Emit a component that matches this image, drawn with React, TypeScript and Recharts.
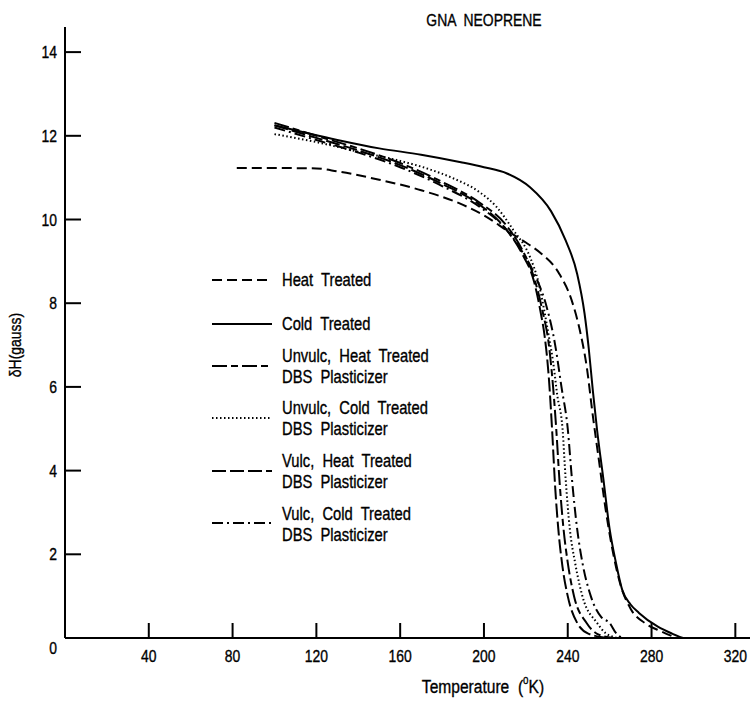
import { Line, LineChart, XAxis, YAxis } from "recharts";

// temperature (K) / deltaH (gauss) pairs
const heatTreatedT = [82, 100, 120, 130, 150, 170, 190, 200, 212, 220, 227, 236, 242, 246, 249, 252, 255, 258, 261, 265, 270, 277, 285, 292];
const heatTreatedH = [11.23, 11.23, 11.22, 11.15, 10.95, 10.7, 10.35, 10.1, 9.7, 9.45, 9.2, 8.7, 8.05, 7.3, 6.5, 5.3, 4.2, 3.1, 2.2, 1.3, 0.7, 0.35, 0.15, 0];

const coldTreatedT = [100, 130, 150, 170, 189, 200, 211, 222, 232, 239, 244.5, 248, 250, 252, 254, 257, 260, 263, 266, 270, 274, 283, 290, 295];
const coldTreatedH = [12.25, 11.9, 11.7, 11.55, 11.37, 11.25, 11.1, 10.77, 10.2, 9.5, 8.7, 7.76, 6.93, 5.9, 4.97, 3.8, 2.6, 1.8, 1.15, 0.8, 0.6, 0.27, 0.1, 0];

const unvulcHeatT = [100, 120, 140, 160, 180, 198, 210, 218, 224, 228, 231, 233, 234.5, 236, 238, 240, 243, 249, 254, 262];
const unvulcHeatH = [12.31, 12.0, 11.7, 11.35, 10.9, 10.4, 9.9, 9.3, 8.6, 7.8, 7.0, 6.0, 5.0, 3.8, 2.6, 1.8, 1.0, 0.36, 0.1, 0];

const unvulcColdT = [100, 120, 140, 160, 174, 186, 198, 206, 214, 222, 226, 228.5, 231, 233, 235, 237.5, 239, 241, 243.5, 247, 254, 258, 264];
const unvulcColdH = [12.04, 11.85, 11.62, 11.4, 11.2, 10.97, 10.65, 10.3, 9.75, 9.1, 8.5, 7.9, 7.2, 6.6, 5.8, 5.0, 3.8, 2.6, 1.8, 1.0, 0.36, 0.12, 0];

const vulcHeatT = [100, 120, 140, 160, 180, 198, 210, 218, 224, 227, 229, 231, 232.5, 234, 235.5, 237.5, 240, 244.5, 250, 260];
const vulcHeatH = [12.25, 11.95, 11.65, 11.3, 10.85, 10.35, 9.8, 9.2, 8.5, 7.8, 7.2, 6.2, 5.0, 3.6, 2.6, 1.7, 1.0, 0.36, 0.1, 0];

const vulcColdT = [100, 120, 140, 160, 180, 198, 210, 218, 225, 230, 234, 237, 240, 242, 244.5, 247, 251, 256, 260, 263, 266];
const vulcColdH = [12.2, 11.9, 11.6, 11.25, 10.8, 10.3, 9.8, 9.25, 8.6, 7.9, 7.0, 6.0, 5.0, 3.8, 2.6, 1.8, 1.0, 0.5, 0.36, 0.12, 0];

const xTicks = [40, 80, 120, 160, 200, 240, 280, 320];
const yTicks = [0, 2, 4, 6, 8, 10, 12, 14];

const FONT = "'Liberation Sans', Arial, sans-serif";

const toPoints = (ts: number[], hs: number[]) => ts.map((t, i) => ({ t, h: hs[i] }));

const SERIES = [
  { key: "heat", label: ["Heat  Treated"], dash: "10 5", data: toPoints(heatTreatedT, heatTreatedH) },
  { key: "cold", label: ["Cold  Treated"], dash: undefined, data: toPoints(coldTreatedT, coldTreatedH) },
  { key: "unvulcHeat", label: ["Unvulc,  Heat  Treated", "DBS  Plasticizer"], dash: "15 4 7 4", data: toPoints(unvulcHeatT, unvulcHeatH) },
  { key: "unvulcCold", label: ["Unvulc,  Cold  Treated", "DBS  Plasticizer"], dash: "1.5 2.5", data: toPoints(unvulcColdT, unvulcColdH) },
  { key: "vulcHeat", label: ["Vulc,  Heat  Treated", "DBS  Plasticizer"], dash: "14 4", data: toPoints(vulcHeatT, vulcHeatH) },
  { key: "vulcCold", label: ["Vulc,  Cold  Treated", "DBS  Plasticizer"], dash: "11 4 2 4", data: toPoints(vulcColdT, vulcColdH) },
];

// legend rows: y of sample line, y of each text line
const LEGEND_ROWS = [
  { line: 280, text: [280] },
  { line: 324, text: [324] },
  { line: 366, text: [356, 377] },
  { line: 418, text: [408, 429] },
  { line: 471, text: [461, 482] },
  { line: 523, text: [514, 535] },
];

// condensed text: Liberation Sans squeezed horizontally, slightly heavier
const NText = ({ x, y, size, anchor = "start", children }: any) => (
  <text
    transform={`translate(${x}, ${y}) scale(0.82, 1)`}
    textAnchor={anchor}
    fontFamily={FONT}
    fontSize={size}
    fill="#000"
    stroke="#000"
    strokeWidth={0.35}
    style={{ whiteSpace: "pre" }}
  >
    {children}
  </text>
);

const XTick = ({ x, y, payload }: any) => (
  <g>
    <line x1={x} x2={x} y1={y} y2={y - 15} stroke="#000" strokeWidth={2} />
    <NText x={x} y={y + 24} size={17} anchor="middle">
      {payload.value}
    </NText>
  </g>
);

const YTick = ({ x, y, payload }: any) => (
  <g>
    {payload.value !== 0 && (
      <line x1={x} x2={x + 16} y1={y} y2={y} stroke="#000" strokeWidth={2} />
    )}
    <NText x={x - 8} y={payload.value === 0 ? y + 16 : y + 6} size={17} anchor="end">
      {payload.value}
    </NText>
  </g>
);

export default function App() {
  return (
    <div style={{ position: "absolute", left: 0, top: 0, width: 751, height: 701, background: "#fff" }}>
      <LineChart width={751} height={701} margin={{ top: 27, right: 1, bottom: 0, left: 0 }}>
        <XAxis
          dataKey="t"
          type="number"
          domain={[0, 327]}
          ticks={xTicks}
          height={63}
          tickSize={0}
          tickMargin={0}
          tickLine={false}
          tick={<XTick />}
          axisLine={{ stroke: "#000", strokeWidth: 2 }}
          allowDataOverflow
        />
        <YAxis
          type="number"
          domain={[0, 14.6]}
          ticks={yTicks}
          width={65}
          tickSize={0}
          tickMargin={0}
          tickLine={false}
          tick={<YTick />}
          axisLine={{ stroke: "#000", strokeWidth: 2 }}
          allowDataOverflow
        />
        {SERIES.map((s) => (
          <Line
            key={s.key}
            data={s.data}
            dataKey="h"
            name={s.label.join(" ")}
            type="monotone"
            stroke="#000"
            strokeWidth={2}
            strokeDasharray={s.dash}
            dot={false}
            activeDot={false}
            isAnimationActive={false}
          />
        ))}
      </LineChart>
      <svg
        width={751}
        height={701}
        style={{ position: "absolute", left: 0, top: 0, pointerEvents: "none" }}
      >
        <NText x={484} y={26} size={17} anchor="middle">
          GNA  NEOPRENE
        </NText>
        <g transform="translate(21, 345) rotate(-90)">
          <NText x={0} y={0} size={17} anchor="middle">
            δH(gauss)
          </NText>
        </g>
        <NText x={483} y={693} size={19} anchor="middle">
          {"Temperature  ("}
          <tspan fontSize={12} dy={-9}>o</tspan>
          <tspan dy={9}>K)</tspan>
        </NText>
        {SERIES.map((s, i) => {
          const row = LEGEND_ROWS[i];
          return (
            <g key={s.key}>
              <line
                x1={212}
                x2={272}
                y1={row.line}
                y2={row.line}
                stroke="#000"
                strokeWidth={2.2}
                strokeDasharray={s.dash}
              />
              {s.label.map((txt, j) => (
                <NText key={j} x={282} y={row.text[j] + 6} size={18}>
                  {txt}
                </NText>
              ))}
            </g>
          );
        })}
      </svg>
    </div>
  );
}
